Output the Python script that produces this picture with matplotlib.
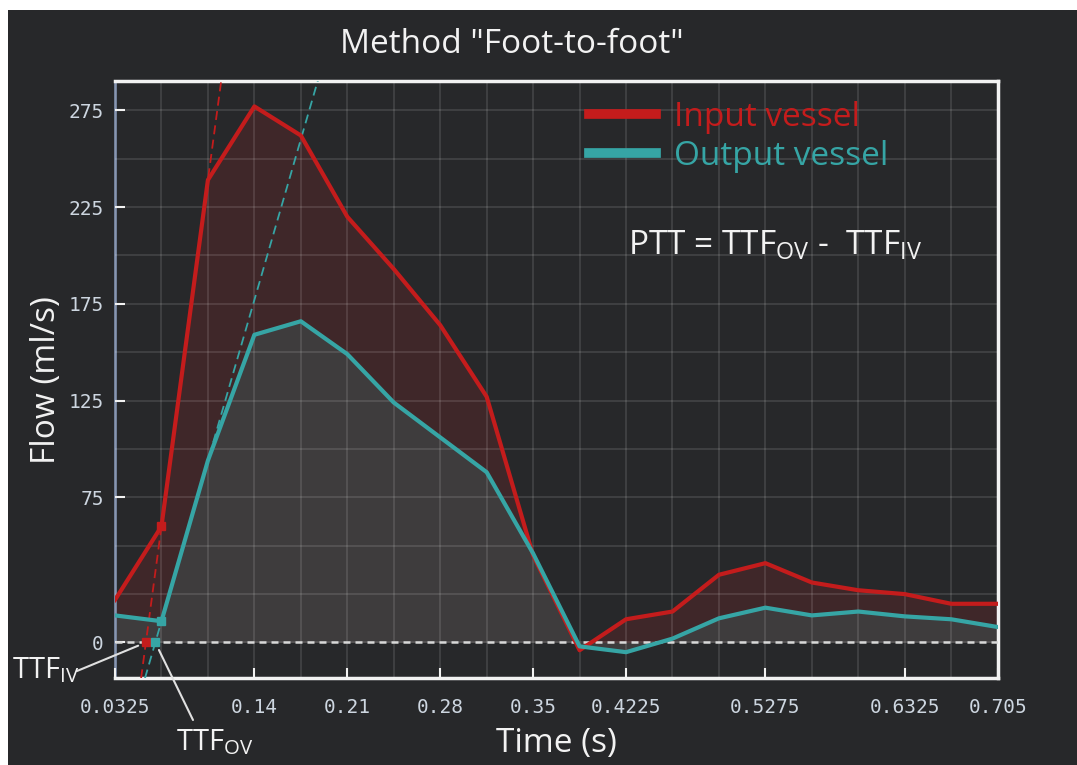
import numpy as np
import matplotlib
matplotlib.use("Agg")
import matplotlib.pyplot as plt
from matplotlib.lines import Line2D
from matplotlib.patches import Rectangle
from matplotlib.ticker import MultipleLocator

plt.rcParams['font.family'] = ['Open Sans', 'DejaVu Sans']
plt.rcParams['mathtext.fontset'] = 'custom'
plt.rcParams['mathtext.rm'] = 'Open Sans'
plt.rcParams['mathtext.it'] = 'Open Sans'

# Podaci (uzorci protoka, ml/s)
flow_in = [22, 60, 239, 277, 262, 220, 193, 164, 127, 45, -4, 12, 16, 35, 41, 31, 27, 25, 20, 20]
flow_out = [14, 11, 94, 159, 166, 149, 124, 106, 88, 46, -2, -5, 2, 12.5, 18, 14, 16, 13.5, 12, 8]
tick_idx = [0, 3, 5, 7, 9, 11, 14, 17, 19]
tick_labels = ['0.0325', '0.14', '0.21', '0.28', '0.35', '0.4225', '0.5275', '0.6325', '0.705']
ytick_vals = [0, 75, 125, 175, 225, 275]

# Boje
bg = '#27282a'
red = '#c41c1c'
teal = '#36a5a5'
fg = '#f2f2f2'
tick_col = '#cdd6e0'

x = np.arange(len(flow_in))
W, H = 1077, 765

fig = plt.figure(figsize=(W / 100, H / 100), dpi=100, facecolor='white')
fig.add_artist(Rectangle((8 / W, 0), 1 - 8 / W, 1 - 10 / H, transform=fig.transFigure,
                         facecolor=bg, edgecolor='none', zorder=-5))

ax = fig.add_axes([115 / W, (H - 678.3) / H, 882.7 / W, 597.8 / H])
ax.set_facecolor(bg)

# Ispune ispod krivulja
ax.fill_between(x, flow_in, 0, color='#3f2729', lw=0, zorder=1)
ax.fill_between(x, flow_out, 0, color='#3e3c3d', lw=0, zorder=1.1)

# Tangente (kroz 1. i 2. uzorak uzlaznog dijela)
def foot(series):
    slope = series[2] - series[1]
    return 1 - series[1] / slope

ttf_iv = foot(flow_in)
ttf_ov = foot(flow_out)
ax.axline((1, flow_in[1]), (2, flow_in[2]), color=red, lw=1.3, dashes=(5, 3), zorder=3)
ax.axline((1, flow_out[1]), (2, flow_out[2]), color=teal, lw=1.3, dashes=(5, 3), zorder=3)

# Nulta linija
ax.axhline(0, color='#d8d8d8', lw=1.8, dashes=(2.8, 2), zorder=3)

# Krivulje
ax.plot(x, flow_in, color=red, lw=3, zorder=4)
ax.plot(x, flow_out, color=teal, lw=3, zorder=4)

# Markeri
ax.plot([1, ttf_iv], [flow_in[1], 0], 's', color=red, ms=5.5, zorder=5)
ax.plot([1, ttf_ov], [flow_out[1], 0], 's', color=teal, ms=5.5, zorder=5)

ax.set_xlim(0, len(flow_in) - 1)
ax.set_ylim(-18.5, 290.4)

ax.set_xticks(tick_idx, tick_labels, fontfamily='DejaVu Sans Mono')
ax.set_yticks(ytick_vals, [str(v) for v in ytick_vals], fontfamily='DejaVu Sans Mono')
ax.xaxis.set_minor_locator(MultipleLocator(1))
ax.yaxis.set_minor_locator(MultipleLocator(25))
ax.grid(which='both', color='white', alpha=0.13, lw=1.2)
ax.set_axisbelow(False)
ax.tick_params(which='major', direction='in', length=7, width=1.5, color=fg,
               labelsize=14, labelcolor=tick_col)
ax.tick_params(which='minor', length=0)
ax.tick_params(axis='x', pad=14)
ax.tick_params(axis='y', pad=8)

for side in ['top', 'right', 'bottom']:
    ax.spines[side].set_color(fg)
    ax.spines[side].set_linewidth(2.5)
ax.spines['left'].set_color('#7b8aa6')
ax.spines['left'].set_linewidth(2)

# Legenda
handles = [Line2D([0], [0], color=red, lw=7), Line2D([0], [0], color=teal, lw=7)]
ax.legend(handles, ['Input vessel', 'Output vessel'], loc='upper left',
          bbox_to_anchor=(589 / W, 1 - 101 / H), bbox_transform=fig.transFigure,
          frameon=False, fontsize=24, handlelength=2.0, handletextpad=0.55,
          labelspacing=0.17, borderpad=0, borderaxespad=0, labelcolor='linecolor')

# Tekstovi
fig.text(512 / W, 1 - 53 / H, 'Method "Foot-to-foot"', color=fg, fontsize=24,
         ha='center', va='baseline')
fig.text(628 / W, 1 - 255 / H, r'PTT = TTF$_{\mathrm{OV}}$ -  TTF$_{\mathrm{IV}}$', color=fg,
         fontsize=24, ha='left', va='baseline')
fig.text(46 / W, 1 - 380 / H, 'Flow (ml/s)', color=fg, fontsize=24, rotation=90,
         ha='center', va='center')
fig.text(556 / W, 1 - 752 / H, 'Time (s)', color=fg, fontsize=24, ha='center', va='baseline')

fig.text(12 / W, 1 - 678 / H, r'TTF$_{\mathrm{IV}}$', color=fg, fontsize=21, ha='left', va='baseline')
fig.text(176 / W, 1 - 750 / H, r'TTF$_{\mathrm{OV}}$', color=fg, fontsize=21, ha='left', va='baseline')
ax.annotate('', xy=(ttf_iv, 0), xytext=(77, H - 671), textcoords='figure pixels',
            annotation_clip=False,
            arrowprops=dict(arrowstyle='-', color='#e0e0e0', lw=1.5, shrinkA=0, shrinkB=6))
ax.annotate('', xy=(ttf_ov, 0), xytext=(193, H - 720), textcoords='figure pixels',
            annotation_clip=False,
            arrowprops=dict(arrowstyle='-', color='#e0e0e0', lw=1.5, shrinkA=0, shrinkB=6))

fig.savefig('out.png', dpi=100, facecolor=fig.get_facecolor())
